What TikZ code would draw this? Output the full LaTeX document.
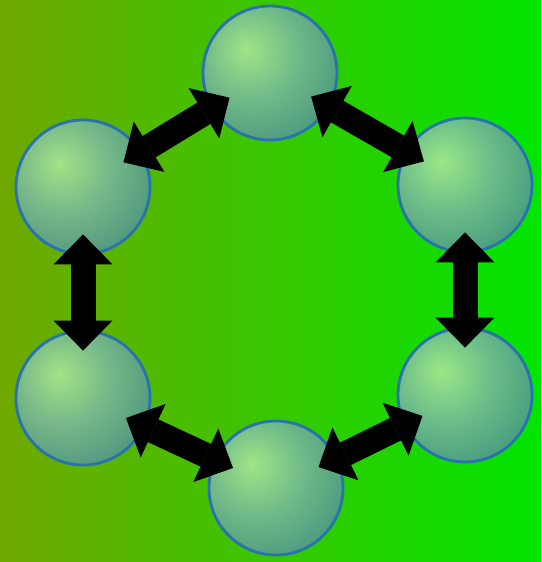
\documentclass[tikz,border=0pt]{standalone}
\usepackage{tikz}
\usetikzlibrary{arrows.meta, positioning, calc}

\definecolor{bgleft}{RGB}{112,168,0}
\definecolor{bgright}{RGB}{0,230,0}
\definecolor{balllight}{RGB}{174,234,154}
\definecolor{ballmid}{RGB}{122,186,156}
\definecolor{balldark}{RGB}{62,130,140}
\definecolor{ballrim}{RGB}{40,114,176}

\pgfdeclareradialshading{ballshade}{\pgfpoint{-9bp}{9bp}}{%
  color(0bp)=(balllight); color(17bp)=(ballmid);
  color(42bp)=(balldark); color(100bp)=(balldark)}

\begin{document}
\begin{tikzpicture}[
        x=1pt, y=-1pt,
        ball/.style={circle, draw=ballrim, line width=2.8pt, shading=ballshade, fill opacity=0.88, minimum size=134pt, inner sep=0pt},
        link/.style={line width=25pt, draw=black,
            {Triangle[length=30pt, width=59pt, line width=0pt]}-{Triangle[length=30pt, width=59pt, line width=0pt]},
            shorten <=-21pt, shorten >=-21pt}
    ]
        % --- Hintergrund ---
        \shade[left color=bgleft, right color=bgright] (0,0) rectangle (541,562);
        \useasboundingbox (0,0) rectangle (541,562);

        % --- Kugeln ---
        \node[ball] (top) at (270,73) {};
        \node[ball] (ul) at (83,187) {};
        \node[ball] (ur) at (465,185) {};
        \node[ball] (ll) at (83,398) {};
        \node[ball] (lr) at (465,395) {};
        \node[ball] (bot) at (276,488) {};

        % --- Verbindungen ---
        \draw[link] (ul) -- (top);
        \draw[link] (top) -- (ur);
        \draw[link] (ul) -- (ll);
        \draw[link] (ur) -- (lr);
        \draw[link] (ll) -- (bot);
        \draw[link] (bot) -- (lr);
    \end{tikzpicture}
\end{document}
